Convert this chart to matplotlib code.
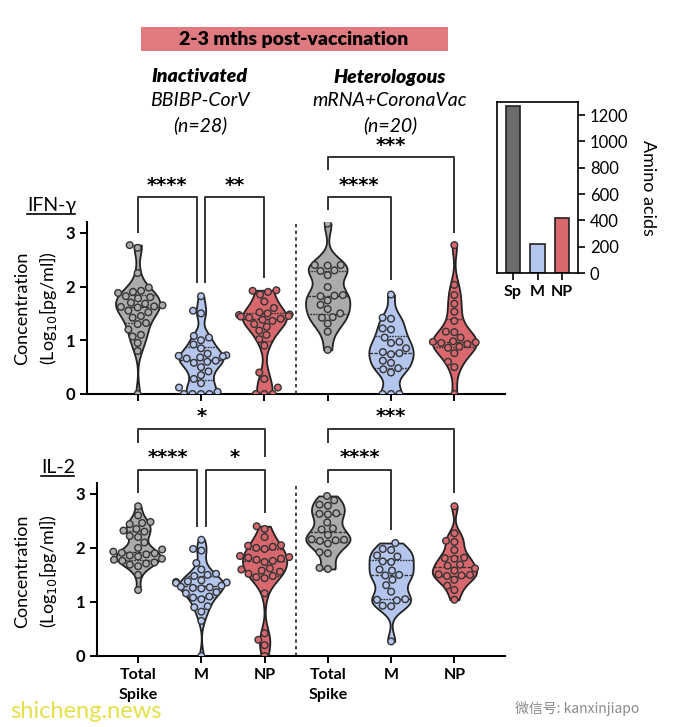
import numpy as np
import pandas as pd
import matplotlib
matplotlib.use("Agg")
import matplotlib.pyplot as plt
import seaborn as sns
from matplotlib.patches import Rectangle

# Log10 concentration (pg/ml)
ifn_inact_spike = [2.77, 2.72, 2.25, 1.98, 1.92, 1.90, 1.88, 1.82, 1.80, 1.78, 1.70, 1.68,
                   1.65, 1.63, 1.62, 1.61, 1.55, 1.52, 1.45, 1.42, 1.32, 1.30, 1.20, 1.10,
                   1.07, 0.95, 0.80, 0.0]
ifn_inact_m = [1.82, 1.55, 1.50, 1.08, 1.05, 1.00, 0.92, 0.85, 0.75, 0.72, 0.71, 0.70,
               0.68, 0.66, 0.62, 0.60, 0.58, 0.50, 0.42, 0.35, 0.28, 0.20, 0.12, 0.04,
               0.0, 0.0, 0.0, 0.0]
ifn_inact_np = [1.93, 1.92, 1.90, 1.85, 1.72, 1.60, 1.52, 1.50, 1.48, 1.47, 1.45, 1.44,
                1.42, 1.40, 1.38, 1.36, 1.30, 1.25, 1.18, 1.10, 1.02, 0.90, 0.40, 0.28,
                0.12, 0.0, 0.0, 0.0]
ifn_het_spike = [3.17, 2.40, 2.40, 2.39, 2.30, 2.29, 2.21, 1.99, 1.84, 1.83, 1.82, 1.74,
                 1.66, 1.58, 1.50, 1.43, 1.42, 1.31, 1.16, 0.82]
ifn_het_m = [1.85, 1.42, 1.40, 1.22, 1.20, 1.05, 0.97, 0.95, 0.85, 0.78, 0.76, 0.74,
             0.62, 0.58, 0.48, 0.46, 0.40, 0.0, 0.0, 0.0]
ifn_het_np = [2.77, 2.03, 1.84, 1.68, 1.53, 1.36, 1.16, 1.15, 1.05, 0.98, 0.97, 0.96,
              0.95, 0.93, 0.88, 0.86, 0.76, 0.60, 0.50, 0.0]

il2_inact_spike = [2.77, 2.60, 2.48, 2.46, 2.44, 2.35, 2.32, 2.30, 2.22, 2.20, 2.10, 2.00,
                   1.97, 1.93, 1.91, 1.90, 1.88, 1.86, 1.84, 1.80, 1.78, 1.76, 1.73, 1.71,
                   1.69, 1.66, 1.50, 1.22]
il2_inact_m = [2.15, 1.98, 1.95, 1.72, 1.60, 1.52, 1.50, 1.48, 1.40, 1.38, 1.37, 1.36,
               1.35, 1.30, 1.28, 1.27, 1.26, 1.25, 1.18, 1.16, 1.10, 1.08, 1.05, 0.92,
               0.90, 0.82, 0.65, 0.0]
il2_inact_np = [2.40, 2.35, 2.20, 2.05, 2.04, 2.02, 2.00, 1.98, 1.85, 1.83, 1.82, 1.80,
                1.78, 1.76, 1.74, 1.62, 1.60, 1.58, 1.56, 1.52, 1.48, 1.46, 1.44, 1.16,
                0.42, 0.30, 0.20, 0.0]
il2_het_spike = [2.96, 2.88, 2.80, 2.78, 2.64, 2.63, 2.62, 2.47, 2.36, 2.34, 2.24, 2.16,
                 2.15, 2.14, 2.13, 2.08, 1.92, 1.90, 1.63, 1.61]
il2_het_m = [2.09, 1.98, 1.96, 1.86, 1.84, 1.75, 1.74, 1.60, 1.58, 1.50, 1.49, 1.41,
             1.31, 1.19, 1.05, 1.04, 1.03, 0.93, 0.92, 0.27]
il2_het_np = [2.77, 2.27, 2.13, 2.11, 1.96, 1.82, 1.81, 1.80, 1.69, 1.67, 1.62, 1.58,
              1.51, 1.50, 1.49, 1.48, 1.41, 1.30, 1.22, 1.04]

antigens = ['Spike', 'M', 'NP', 'Spike', 'M', 'NP']
x_labels = ['Total\nSpike', 'M', 'NP', 'Total\nSpike', 'M', 'NP']
aa_labels = ['Sp', 'M', 'NP']
aa_counts = [1273, 222, 419]

# (left, right, label) comparisons drawn above each panel
ifn_tests = [(0, 1, '****'), (1, 2, '**'), (3, 4, '****'), (3, 5, '***')]
il2_tests = [(0, 1, '****'), (1, 2, '*'), (0, 2, '*'), (3, 4, '****'), (3, 5, '***')]

palette = {'Spike': '#ababab', 'M': '#b4c6ee', 'NP': '#d9686e'}
bar_colors = ['#6b6b6b', '#b4c6ee', '#d9686e']

plt.rcParams['font.family'] = ['Lato', 'DejaVu Sans']

fig = plt.figure(figsize=(6.73, 7.27), dpi=100)


def draw_panel(ax, series, tests, layout):
    pos = np.arange(len(series))
    df = pd.DataFrame({
        'pos': np.concatenate([[p] * len(s) for p, s in zip(pos, series)]).astype(float),
        'val': np.concatenate(series),
        'key': np.concatenate([[k] * len(s) for k, s in zip(antigens, series)]),
    })
    sns.violinplot(data=df, x='pos', y='val', hue='key', palette=palette,
                   native_scale=True, dodge=False, cut=0, inner='quart',
                   density_norm='width', width=0.7, bw_adjust=0.6, saturation=1,
                   linewidth=1.3, linecolor='#222222',
                   inner_kws=dict(color='#333333', linewidth=1.0),
                   legend=False, ax=ax)
    sns.swarmplot(data=df, x='pos', y='val', hue='key', palette=palette,
                  native_scale=True, dodge=False, size=4.8, edgecolor='#333333',
                  linewidth=1.0, legend=False, ax=ax)
    ax.vlines(2.5, 0, 3.2, colors='#222222', linestyles=(0, (2, 2)), lw=1.2)
    for (a, b, lab), (h, ya, yb, ty) in zip(tests, layout):
        xa = a + 0.07 if a == 1 else a
        xb = b - 0.07 if b == 1 else b
        ax.plot([xa, xa, xb, xb], [ya, h, h, yb], color='#333333', lw=1.4,
                clip_on=False, solid_capstyle='butt')
        ax.text((xa + xb) / 2, ty, lab, ha='center', va='center', fontsize=14,
                fontweight='bold', family='DejaVu Sans', clip_on=False)
    ax.set_ylim(0, 3.2)
    ax.set_yticks([0, 1, 2, 3])
    ax.set_xticks(pos)
    ax.set_xlabel('')
    ax.set_ylabel('')
    for s in ['top', 'right']:
        ax.spines[s].set_visible(False)
    for s in ['left', 'bottom']:
        ax.spines[s].set_linewidth(1.5)
    ax.tick_params(direction='out', length=5, width=1.4, labelsize=12)
    for t in ax.get_yticklabels():
        t.set_fontweight('bold')


# top panel: IFN-gamma
ax1 = fig.add_axes([87 / 673, 1 - 394 / 727, 418 / 673, 172 / 727])
draw_panel(ax1, [ifn_inact_spike, ifn_inact_m, ifn_inact_np,
                 ifn_het_spike, ifn_het_m, ifn_het_np], ifn_tests,
           [(3.66, 3.0, 2.06, 3.88), (3.66, 2.06, 2.15, 3.88),
            (3.66, 3.42, 2.12, 3.88), (4.40, 4.16, 3.0, 4.63)])
ax1.set_xlim(-0.8, 5.8)
ax1.set_xticklabels([])

# bottom panel: IL-2
ax2 = fig.add_axes([97 / 673, 1 - 656 / 727, 408 / 673, 173 / 727])
draw_panel(ax2, [il2_inact_spike, il2_inact_m, il2_inact_np,
                 il2_het_spike, il2_het_m, il2_het_np], il2_tests,
           [(3.44, 3.02, 2.39, 3.68), (3.44, 2.39, 2.65, 3.68), (4.19, 3.94, 3.68, 4.43),
            (3.44, 3.2, 2.33, 3.68), (4.19, 3.94, 3.02, 4.43)])
ax2.set_xlim(-0.65, 5.8)
ax2.set_xticklabels(x_labels, fontweight='bold', fontsize=11.5, linespacing=1.6)

# y labels and panel names
for yc in (308, 571):
    fig.text(22 / 673, 1 - yc / 727, 'Concentration', rotation=90, ha='center',
             va='center', fontsize=13)
    fig.text(48 / 673, 1 - yc / 727, '(Log$_{10}$[pg/ml])', rotation=90, ha='center',
             va='center', fontsize=13)
fig.text(27 / 673, 1 - 205 / 727, 'IFN-γ', ha='left', va='center', fontsize=14)
fig.add_artist(plt.Line2D([27 / 673, 75 / 673], [1 - 214 / 727] * 2, color='black', lw=1.2))
fig.text(41 / 673, 1 - 467 / 727, 'IL-2', ha='left', va='center', fontsize=14)
fig.add_artist(plt.Line2D([41 / 673, 74 / 673], [1 - 476 / 727] * 2, color='black', lw=1.2))

# banner and group headers
fig.add_artist(Rectangle((141 / 673, 1 - 51 / 727), 307 / 673, 24 / 727,
                         transform=fig.transFigure, color='#df7b80', lw=0))
fig.text(294 / 673, 1 - 39 / 727, '2-3 mths post-vaccination', ha='center', va='center',
         fontsize=14, fontweight='heavy')
for xc, head, sub, n in [(200, 'Inactivated', 'BBIBP-CorV', '(n=28)'),
                         (390, 'Heterologous', 'mRNA+CoronaVac', '(n=20)')]:
    fig.text(xc / 673, 1 - 77 / 727, head, ha='center', va='center', fontsize=14,
             fontweight='heavy', style='italic')
    fig.text(xc / 673, 1 - 100 / 727, sub, ha='center', va='center', fontsize=14,
             style='italic')
    fig.text(xc / 673, 1 - 125 / 727, n, ha='center', va='center', fontsize=14,
             style='italic')

# inset: protein length
ax3 = fig.add_axes([497 / 673, 1 - 273 / 727, 81 / 673, 171 / 727])
ax3.bar(range(3), aa_counts, width=0.6, color=bar_colors, edgecolor='#222222', lw=1.2)
ax3.set_ylim(0, 1300)
ax3.set_xlim(-0.65, 2.65)
ax3.set_yticks(range(0, 1201, 200))
ax3.yaxis.tick_right()
ax3.yaxis.set_label_position('right')
ax3.set_ylabel('Amino acids', rotation=270, labelpad=20, fontsize=13)
ax3.set_xticks(range(3))
ax3.set_xticklabels(aa_labels, fontweight='bold', fontsize=11.5)
ax3.tick_params(direction='out', length=5, width=1.2, labelsize=12)
ax3.tick_params(axis='x', labelsize=11.5)
for s in ax3.spines.values():
    s.set_linewidth(1.2)

# watermarks
fig.text(10 / 673, 1 - 711 / 727, 'shicheng.news', ha='left', va='center', fontsize=17,
         color='#e3e04a')
fig.text(515 / 673, 1 - 708 / 727, '微信号: kanxinjiapo', ha='left', va='center',
         fontsize=10, color='#8a8a8a', family=['Noto Sans CJK SC', 'DejaVu Sans'])

fig.savefig('out.png', dpi=100)
